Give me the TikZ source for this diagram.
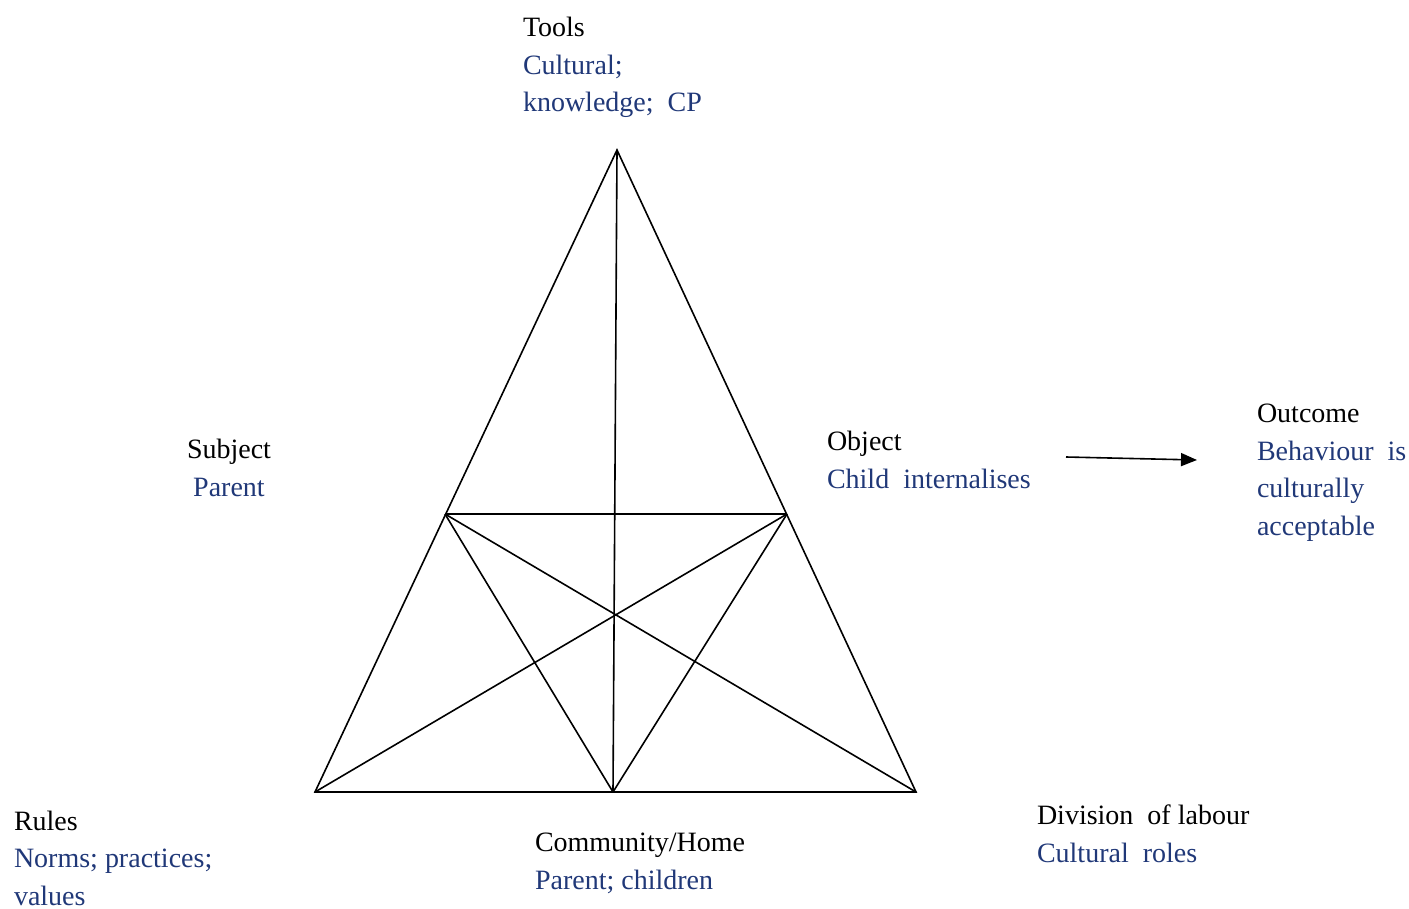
\documentclass[tikz,border=0pt]{standalone}
\usepackage{fontspec}
\setmainfont{Liberation Serif}
\usetikzlibrary{arrows.meta}
\definecolor{labelblue}{RGB}{32,56,120}
\begin{document}
\begin{tikzpicture}[x=1pt,y=-1pt,
  edge/.style={line width=1.6pt,black},
  lbl/.style={inner sep=0pt,outer sep=0pt,align=left,anchor=base west,
    font=\fontsize{28}{37.5}\selectfont},
  lblc/.style={lbl,align=center,anchor=base}]
\useasboundingbox (0,0) rectangle (1409,909);

% corners of the activity triangle
\coordinate (apex) at (617,150);
\coordinate (bl) at (315,792);
\coordinate (br) at (916,792);
\coordinate (bm) at (613,792);
\coordinate (ml) at (445,514);
\coordinate (mr) at (787,514);

% outer triangle
\draw[edge,line join=miter] (apex) -- (bl) -- (br) -- cycle;
% inner lines
\draw[edge] (apex) -- (bm);
\draw[edge] (ml) -- (mr);
\draw[edge] (ml) -- (bm);
\draw[edge] (mr) -- (bm);
\draw[edge] (ml) -- (br);
\draw[edge] (mr) -- (bl);

% arrow towards the outcome
\coordinate (arrS) at (1066,457);
\coordinate (arrE) at (1197,460);
\draw[line width=1.6pt,-{Triangle[length=16pt,width=13pt]}] (arrS) -- (arrE);

% labels (anchored at the baseline of their last line)
\node[lbl] (tools) at (523,112) {Tools\\\textcolor{labelblue}{Cultural;}\\\textcolor{labelblue}{knowledge;\ \ CP}};
\node[lblc] (subject) at (229,496) {Subject\\\textcolor{labelblue}{Parent}};
\node[lbl] (object) at (827,488) {Object\\\textcolor{labelblue}{Child\ \ internalises}};
\node[lbl] (outcome) at (1257,535) {Outcome\\\textcolor{labelblue}{Behaviour\ \ is}\\\textcolor{labelblue}{culturally}\\\textcolor{labelblue}{acceptable}};
\node[lbl] (rules) at (14,905) {Rules\\\textcolor{labelblue}{Norms; practices;}\\\textcolor{labelblue}{values}};
\node[lbl] (community) at (535,889) {Community/Home\\\textcolor{labelblue}{Parent; children}};
\node[lbl] (division) at (1037,862) {Division\ \ of labour\\\textcolor{labelblue}{Cultural\ \ roles}};
\end{tikzpicture}
\end{document}
